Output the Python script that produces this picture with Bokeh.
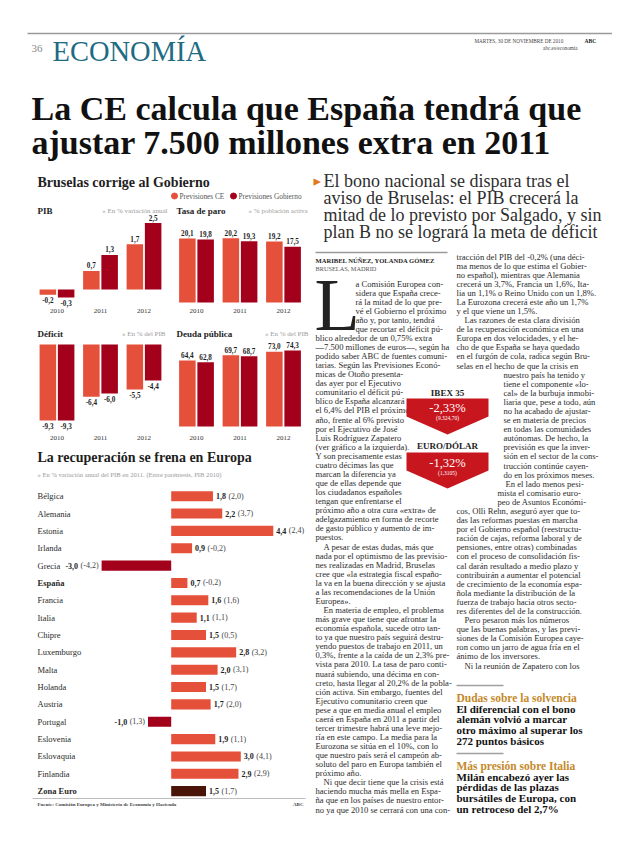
from bokeh.plotting import figure
from bokeh.models import Range1d, ColumnDataSource
from bokeh.transform import dodge
from bokeh.core.properties import value
from bokeh.embed import file_html
from bokeh.resources import INLINE

# ---------------- data ----------------
years = ["2010", "2011", "2012"]
pib_ce = [-0.2, 0.7, 1.7]
pib_gob = [-0.3, 1.3, 2.5]
paro_ce = [20.1, 20.2, 19.2]
paro_gob = [19.8, 19.3, 17.5]
deficit_ce = [-9.3, -6.4, -5.5]
deficit_gob = [-9.3, -6.0, -4.4]
deuda_ce = [64.4, 69.7, 73.0]
deuda_gob = [62.8, 68.7, 74.3]

countries = ["Bélgica", "Alemania", "Estonia", "Irlanda", "Grecia", "España",
             "Francia", "Italia", "Chipre", "Luxemburgo", "Malta", "Holanda",
             "Austria", "Portugal", "Eslovenia", "Eslovaquia", "Finlandia", "Zona Euro"]
pib_2011 = [1.8, 2.2, 4.4, 0.9, -3.0, 0.7, 1.6, 1.1, 1.5, 2.8, 2.0, 1.5, 1.7, -1.0, 1.9, 3.0, 2.9, 1.5]
pib_2010 = [2.0, 3.7, 2.4, -0.2, -4.2, -0.2, 1.6, 1.1, 0.5, 3.2, 3.1, 1.7, 2.0, 1.3, 1.1, 4.1, 2.9, 1.7]
bold_countries = ["España", "Zona Euro"]
total_label = "Zona Euro"

headline = ["La CE calcula que España tendrá que", "ajustar 7.500 millones extra en 2011"]
deck = ["El bono nacional se dispara tras el", "aviso de Bruselas: el PIB crecerá la",
        "mitad de lo previsto por Salgado, y sin", "plan B no se logrará la meta de déficit"]

left_body = [
    "a Comisión Europea con-", "sidera que España crece-", "rá la mitad de lo que pre-",
    "vé el Gobierno el próximo", "año y, por tanto, tendrá", "que recortar el déficit pú-",
    "blico alrededor de un 0,75% extra", "—7.500 millones de euros—, según ha",
    "podido saber ABC de fuentes comuni-", "tarias. Según las Previsiones Econó-",
    "micas de Otoño presenta-", "das ayer por el Ejecutivo", "comunitario el déficit pú-",
    "blico de España alcanzará", "el 6,4% del PIB el próximo", "año, frente al 6% previsto",
    "por el Ejecutivo de José", "Luis Rodríguez Zapatero", "(ver gráfico a la izquierda).",
    "Y son precisamente estas", "cuatro décimas las que", "marcan la diferencia ya",
    "que de ellas depende que", "los ciudadanos españoles", "tengan que enfrentarse el",
    "próximo año a otra cura «extra» de", "adelgazamiento en forma de recorte",
    "de gasto público y aumento de im-", "puestos.",
    ">A pesar de estas dudas, más que", "nada por el optimismo de las previsio-",
    "nes realizadas en Madrid, Bruselas", "cree que «la estrategia fiscal españo-",
    "la va en la buena dirección y se ajusta", "a las recomendaciones de la Unión", "Europea».",
    ">En materia de empleo, el problema", "más grave que tiene que afrontar la",
    "economía española, sucede otro tan-", "to ya que nuestro país seguirá destru-",
    "yendo puestos de trabajo en 2011, un", "0,3%, frente a la caída de un 2,3% pre-",
    "vista para 2010. La tasa de paro conti-", "nuará subiendo, una décima en con-",
    "creto, hasta llegar al 20,2% de la pobla-", "ción activa. Sin embargo, fuentes del",
    "Ejecutivo comunitario creen que", "pese a que en media anual el empleo",
    "caerá en España en 2011 a partir del", "tercer trimestre habrá una leve mejo-",
    "ría en este campo. La media para la", "Eurozona se sitúa en el 10%, con lo",
    "que nuestro país será el campeón ab-", "soluto del paro en Europa también el", "próximo año.",
    ">Ni que decir tiene que la crisis está", "haciendo mucha más mella en Espa-",
    "ña que en los países de nuestro entor-", "no ya que 2010 se cerrará con una con-",
]
right_body = [
    "tracción del PIB del -0,2% (una déci-", "ma menos de lo que estima el Gobier-",
    "no español), mientras que Alemania", "crecerá un 3,7%, Francia un 1,6%, Ita-",
    "lia un 1,1% o Reino Unido con un 1,8%.", "La Eurozona crecerá este año un 1,7%",
    "y el que viene un 1,5%.", ">Las razones de esta clara división",
    "de la recuperación económica en una", "Europa en dos velocidades, y el he-",
    "cho de que España se haya quedado", "en el furgón de cola, radica según Bru-",
    "selas en el hecho de que la crisis en", "nuestro país ha tenido y",
    "tiene el componente «lo-", "cal» de la burbuja inmobi-", "liaria que, pese a todo, aún",
    "no ha acabado de ajustar-", "se en materia de precios", "en todas las comunidades",
    "autónomas. De hecho, la", "previsión es que la inver-", "sión en el sector de la cons-",
    "trucción continúe cayen-", "do en los próximos meses.", ">En el lado menos pesi-",
    "mista el comisario euro-", "peo de Asuntos Económi-",
    "cos, Olli Rehn, aseguró ayer que to-", "das las reformas puestas en marcha",
    "por el Gobierno español (reestructu-", "ración de cajas, reforma laboral y de",
    "pensiones, entre otras) combinadas", "con el proceso de consolidación fis-",
    "cal darán resultado a medio plazo y", "contribuirán a aumentar el potencial",
    "de crecimiento de la economía espa-", "ñola mediante la distribución de la",
    "fuerza de trabajo hacia otros secto-", "res diferentes del de la construcción.",
    ">Pero pesaron más los números", "que las buenas palabras, y las previ-",
    "siones de la Comisión Europea caye-", "ron como un jarro de agua fría en el",
    "ánimo de los inversores.", ">Ni la reunión de Zapatero con los",
]
side1_head = "Dudas sobre la solvencia"
side1 = ["El diferencial con el bono", "alemán volvió a marcar", "otro máximo al superar los", "272 puntos básicos"]
side2_head = "Más presión sobre Italia"
side2 = ["Milán encabezó ayer las", "pérdidas de las plazas", "bursátiles de Europa, con", "un retroceso del 2,7%"]

# ---------------- style ----------------
SERIF = "Liberation Serif"
CE = "#e5503b"
GOB = "#a3001c"
EURO_C = "#4a1409"
INK = "#1e1e1e"
GRAY = "#8a8a8a"
TEAL = "#1f6b84"
GOLD = "#c4892a"
RED = "#c8161e"

# page coordinates (the page is drawn from the window's top-left corner)
X0, X1, Y0, Y1 = 0, 612, 0, 839
W, H = X1 - X0, Y1 - Y0


def fmt(v):
    return f"{v:.1f}".replace(".", ",")


CW = {",": 250, "-": 333, "(": 333, ")": 333, " ": 250, ".": 250}


def tw(s, size):
    return sum(CW.get(c, 500) for c in s) * size / 1000.0


def xr(x0, k):
    return Range1d(start=(X0 - x0) / k, end=(X1 - x0) / k)


def yr(y0, k):
    return Range1d(start=(y0 - Y1) / k, end=(y0 - Y0) / k)


GROUP = 43.5
DX, BW = 0.21, 0.38
panels = {
    "pib": dict(x0=56.5, y0=289.0, ky=26.6, ce=pib_ce, gob=pib_gob, year_y=310),
    "paro": dict(x0=196.0, y0=302.0, ky=3.18, ce=paro_ce, gob=paro_gob, year_y=310),
    "def": dict(x0=56.5, y0=344.0, ky=8.17, ce=deficit_ce, gob=deficit_gob, year_y=437),
    "deuda": dict(x0=196.0, y0=426.0, ky=1.024, ce=deuda_ce, gob=deuda_gob, year_y=437),
}
EU_X0, EU_K = 170.7, 23.2
EU_Y0, EU_ROW = 495.7, 17.35

p = figure(width=W, height=H, x_range=Range1d(X0, X1), y_range=Range1d(Y1, Y0),
           output_backend="svg", toolbar_location=None, x_axis_type=None, y_axis_type=None,
           min_border=0, min_border_left=0, min_border_right=0, min_border_top=0, min_border_bottom=0,
           outline_line_color=None, background_fill_color="white", border_fill_color="white")
p.grid.visible = False

xranges = {k + "_x": xr(v["x0"], GROUP) for k, v in panels.items()}
yranges = {k + "_y": yr(v["y0"], v["ky"]) for k, v in panels.items()}
xranges["eu_x"] = xr(EU_X0, EU_K)
yranges["eu_y"] = yr(EU_Y0, -EU_ROW)
p.extra_x_ranges = xranges
p.extra_y_ranges = yranges


def T(x, y, s, size, color=INK, bold=False, align="left", baseline="middle", font=SERIF):
    p.text(x=[x], y=[y], text=[s], text_font=value(font), text_font_size=f"{size}px",
           text_color=color, text_align=align, text_baseline=baseline,
           text_font_style=("bold" if bold else "normal"))


def rule(xa, xb, y, color="#a8a8a8", width=1.2):
    p.segment(x0=[xa], y0=[y], x1=[xb], y1=[y], line_color=color, line_width=width)


# ---------------- header ----------------
rule(27, 612, 33, "#9a9a9a", 1.5)
T(31, 48, "36", 11, GRAY)
T(52, 51, "ECONOMÍA", 28.5, TEAL)
T(474, 40, "MARTES, 30 DE NOVIEMBRE DE 2010", 5.2, "#444")
T(584, 40, "ABC", 5.5, "#222", bold=True)
T(577, 47, "abc.es/economia", 5.2, "#444", align="right")
T(31, 108, headline[0], 34, "#111", bold=True)
T(31, 142, headline[1], 34, "#111", bold=True)

# ---------------- infographic: Bruselas corrige al Gobierno ----------------
T(37, 182, "Bruselas corrige al Gobierno", 14, INK, bold=True)
p.scatter(x=[174, 233], y=[195.5, 195.5], size=6, marker="circle", color=[CE, GOB])
T(179, 195.5, "Previsiones CE", 7.3, "#555")
T(238, 195.5, "Previsiones Gobierno", 7.3, "#555")

T(37, 210, "PIB", 9, INK, bold=True)
T(167, 210, "» En % variación anual", 7, "#9a9a9a", align="right")
T(176, 210, "Tasa de paro", 9, INK, bold=True)
T(307, 210, "» % población activa", 7, "#9a9a9a", align="right")
T(37, 333, "Déficit", 9, INK, bold=True)
T(165, 333, "» En % del PIB", 7, "#9a9a9a", align="right")
T(176, 333, "Deuda pública", 9, INK, bold=True)
T(308, 333, "» En % del PIB", 7, "#9a9a9a", align="right")

for key, cfg in panels.items():
    ce, gob = cfg["ce"], cfg["gob"]
    src = ColumnDataSource(dict(
        idx=list(range(len(years))), year=years, ce=ce, gob=gob,
        ce_lab=[fmt(v) for v in ce], gob_lab=[fmt(v) for v in gob],
        ce_off=[-5.5 if v >= 0 else 5.5 for v in ce],
        gob_off=[-5.5 if v >= 0 else 5.5 for v in gob]))
    kw = dict(source=src, x_range_name=key + "_x", y_range_name=key + "_y")
    for col, dx, color in (("ce", -DX, CE), ("gob", DX, GOB)):
        p.vbar(x=dodge("idx", dx), top=col, bottom=0, width=BW, fill_color=color, line_color=None, **kw)
        p.text(x=dodge("idx", dx), y=col, text=col + "_lab", y_offset=col + "_off",
               text_align="center", text_baseline="middle", text_font=value(SERIF),
               text_font_style="bold", text_font_size="7.2px", text_color=INK, **kw)
    p.text(x="idx", y=(cfg["y0"] - cfg["year_y"]) / cfg["ky"], text="year",
           text_align="center", text_baseline="middle", text_font=value(SERIF),
           text_font_size="7px", text_color="#333", **kw)

# ---------------- infographic: La recuperación se frena en Europa ----------------
T(37, 457, "La recuperación se frena en Europa", 14, INK, bold=True)
T(37, 474, "» En % variación anual del PIB en 2011. (Entre paréntesis, PIB 2010)", 6.6, "#9a9a9a")

idx = list(range(len(countries)))
colors = [EURO_C if c == total_label else (CE if v >= 0 else GOB) for c, v in zip(countries, pib_2011)]
eu_src = ColumnDataSource(dict(idx=idx, country=countries, v=pib_2011, color=colors))
p.hbar(y="idx", left=0, right="v", height=0.58, fill_color="color", line_color=None,
       source=eu_src, x_range_name="eu_x", y_range_name="eu_y")

LS = 8
for bold in (False, True):
    sel = [i for i in idx if (countries[i] in bold_countries) == bold]
    s = ColumnDataSource(dict(idx=sel, country=[countries[i] for i in sel]))
    p.text(x=37, y="idx", text="country", source=s, y_range_name="eu_y",
           text_font=value(SERIF), text_font_size="8.5px", text_color="#2a2a2a",
           text_font_style=("bold" if bold else "normal"), text_baseline="middle")

pos = [i for i in idx if pib_2011[i] >= 0]
neg = [i for i in idx if pib_2011[i] < 0]
ps = ColumnDataSource(dict(
    idx=pos, v=[pib_2011[i] for i in pos], lab=[fmt(pib_2011[i]) for i in pos],
    prev=["(" + fmt(pib_2010[i]) + ")" for i in pos],
    off=[3 + tw(fmt(pib_2011[i]), LS) + 2.5 for i in pos]))
ns = ColumnDataSource(dict(
    idx=neg, v=[pib_2011[i] for i in neg], lab=[fmt(pib_2011[i]) for i in neg],
    prev=["(" + fmt(pib_2010[i]) + ")" for i in neg],
    off=[-(3 + tw("(" + fmt(pib_2010[i]) + ")", LS) + 2.5) for i in neg]))
ekw = dict(x_range_name="eu_x", y_range_name="eu_y", text_font=value(SERIF),
           text_font_size=f"{LS}px", text_baseline="middle")
p.text(x="v", y="idx", text="lab", x_offset=3, source=ps, text_align="left",
       text_font_style="bold", text_color=INK, **ekw)
p.text(x="v", y="idx", text="prev", x_offset="off", source=ps, text_align="left",
       text_color="#444", **ekw)
p.text(x="v", y="idx", text="prev", x_offset=-3, source=ns, text_align="right",
       text_color="#444", **ekw)
p.text(x="v", y="idx", text="lab", x_offset="off", source=ns, text_align="right",
       text_font_style="bold", text_color=INK, **ekw)

rule(32, 305, 798, "#bdbdbd", 1)
T(37, 804, "Fuente: Comisión Europea y Ministerio de Economía y Hacienda", 5, "#444", bold=True)
T(303, 804, "ABC", 5, "#444", bold=True, align="right")

# ---------------- deck ----------------
T(313, 180, "▸", 15, "#e07a1f", font="DejaVu Sans")
for i, line in enumerate(deck):
    T(323, 180 + 17 * i, line, 18, "#2e2e2e")

# ---------------- body ----------------
rule(315, 447, 252, "#9a9a9a", 1.5)
T(315, 260, "MARIBEL NÚÑEZ, YOLANDA GÓMEZ", 6.6, INK, bold=True)
T(315, 268, "BRUSELAS, MADRID", 6.3, "#555")

BODY = 8.6
LB0, LSTEP = 283.0, 9.07
RB0, RSTEP = 256.0, 9.09
T(314, 304, "L", 74, "#222")

bx, by, bt = [], [], []
for i, line in enumerate(left_body):
    x = 355 if i < 6 else 315
    if line.startswith(">"):
        line, x = line[1:], x + 8
    bx.append(x); by.append(LB0 + LSTEP * i); bt.append(line)
for i, line in enumerate(right_body):
    x = 456
    if 13 <= i <= 24:
        x = 503
    elif 25 <= i <= 27:
        x = 497
    if line.startswith(">"):
        line, x = line[1:], x + 8
    bx.append(x); by.append(RB0 + RSTEP * i); bt.append(line)
p.text(x=bx, y=by, text=bt, text_font=value(SERIF), text_font_size=f"{BODY}px",
       text_color="#2b2b2b", text_baseline="middle")

# IBEX / EURO boxes
T(447, 392, "IBEX 35", 9, INK, bold=True, align="center")
p.patch(x=[406, 488, 488, 447, 406], y=[398, 398, 416, 434, 416], fill_color=RED, line_color=None)
T(447, 407, "-2,33%", 12.5, "white", align="center")
T(447, 417, "(9.324,70)", 5.5, "white", align="center")
T(447, 445, "EURO/DÓLAR", 9, INK, bold=True, align="center")
p.patch(x=[406, 488, 488, 447, 406], y=[452, 452, 470, 488, 470], fill_color=RED, line_color=None)
T(447, 462, "-1,32%", 12.5, "white", align="center")
T(447, 472, "(1,3105)", 5.5, "white", align="center")

# sidebar
rule(456, 503, 685, "#a0a0a0", 1.5)
T(456, 697, side1_head, 11.5, GOLD, bold=True)
for i, line in enumerate(side1):
    T(456, 708 + 10.8 * i, line, 11, "#111", bold=True)
rule(456, 503, 753, "#a0a0a0", 1.5)
T(456, 765, side2_head, 11.5, GOLD, bold=True)
for i, line in enumerate(side2):
    T(456, 776 + 10.8 * i, line, 11, "#111", bold=True)

open("out.html", "w").write(file_html(p, INLINE))
